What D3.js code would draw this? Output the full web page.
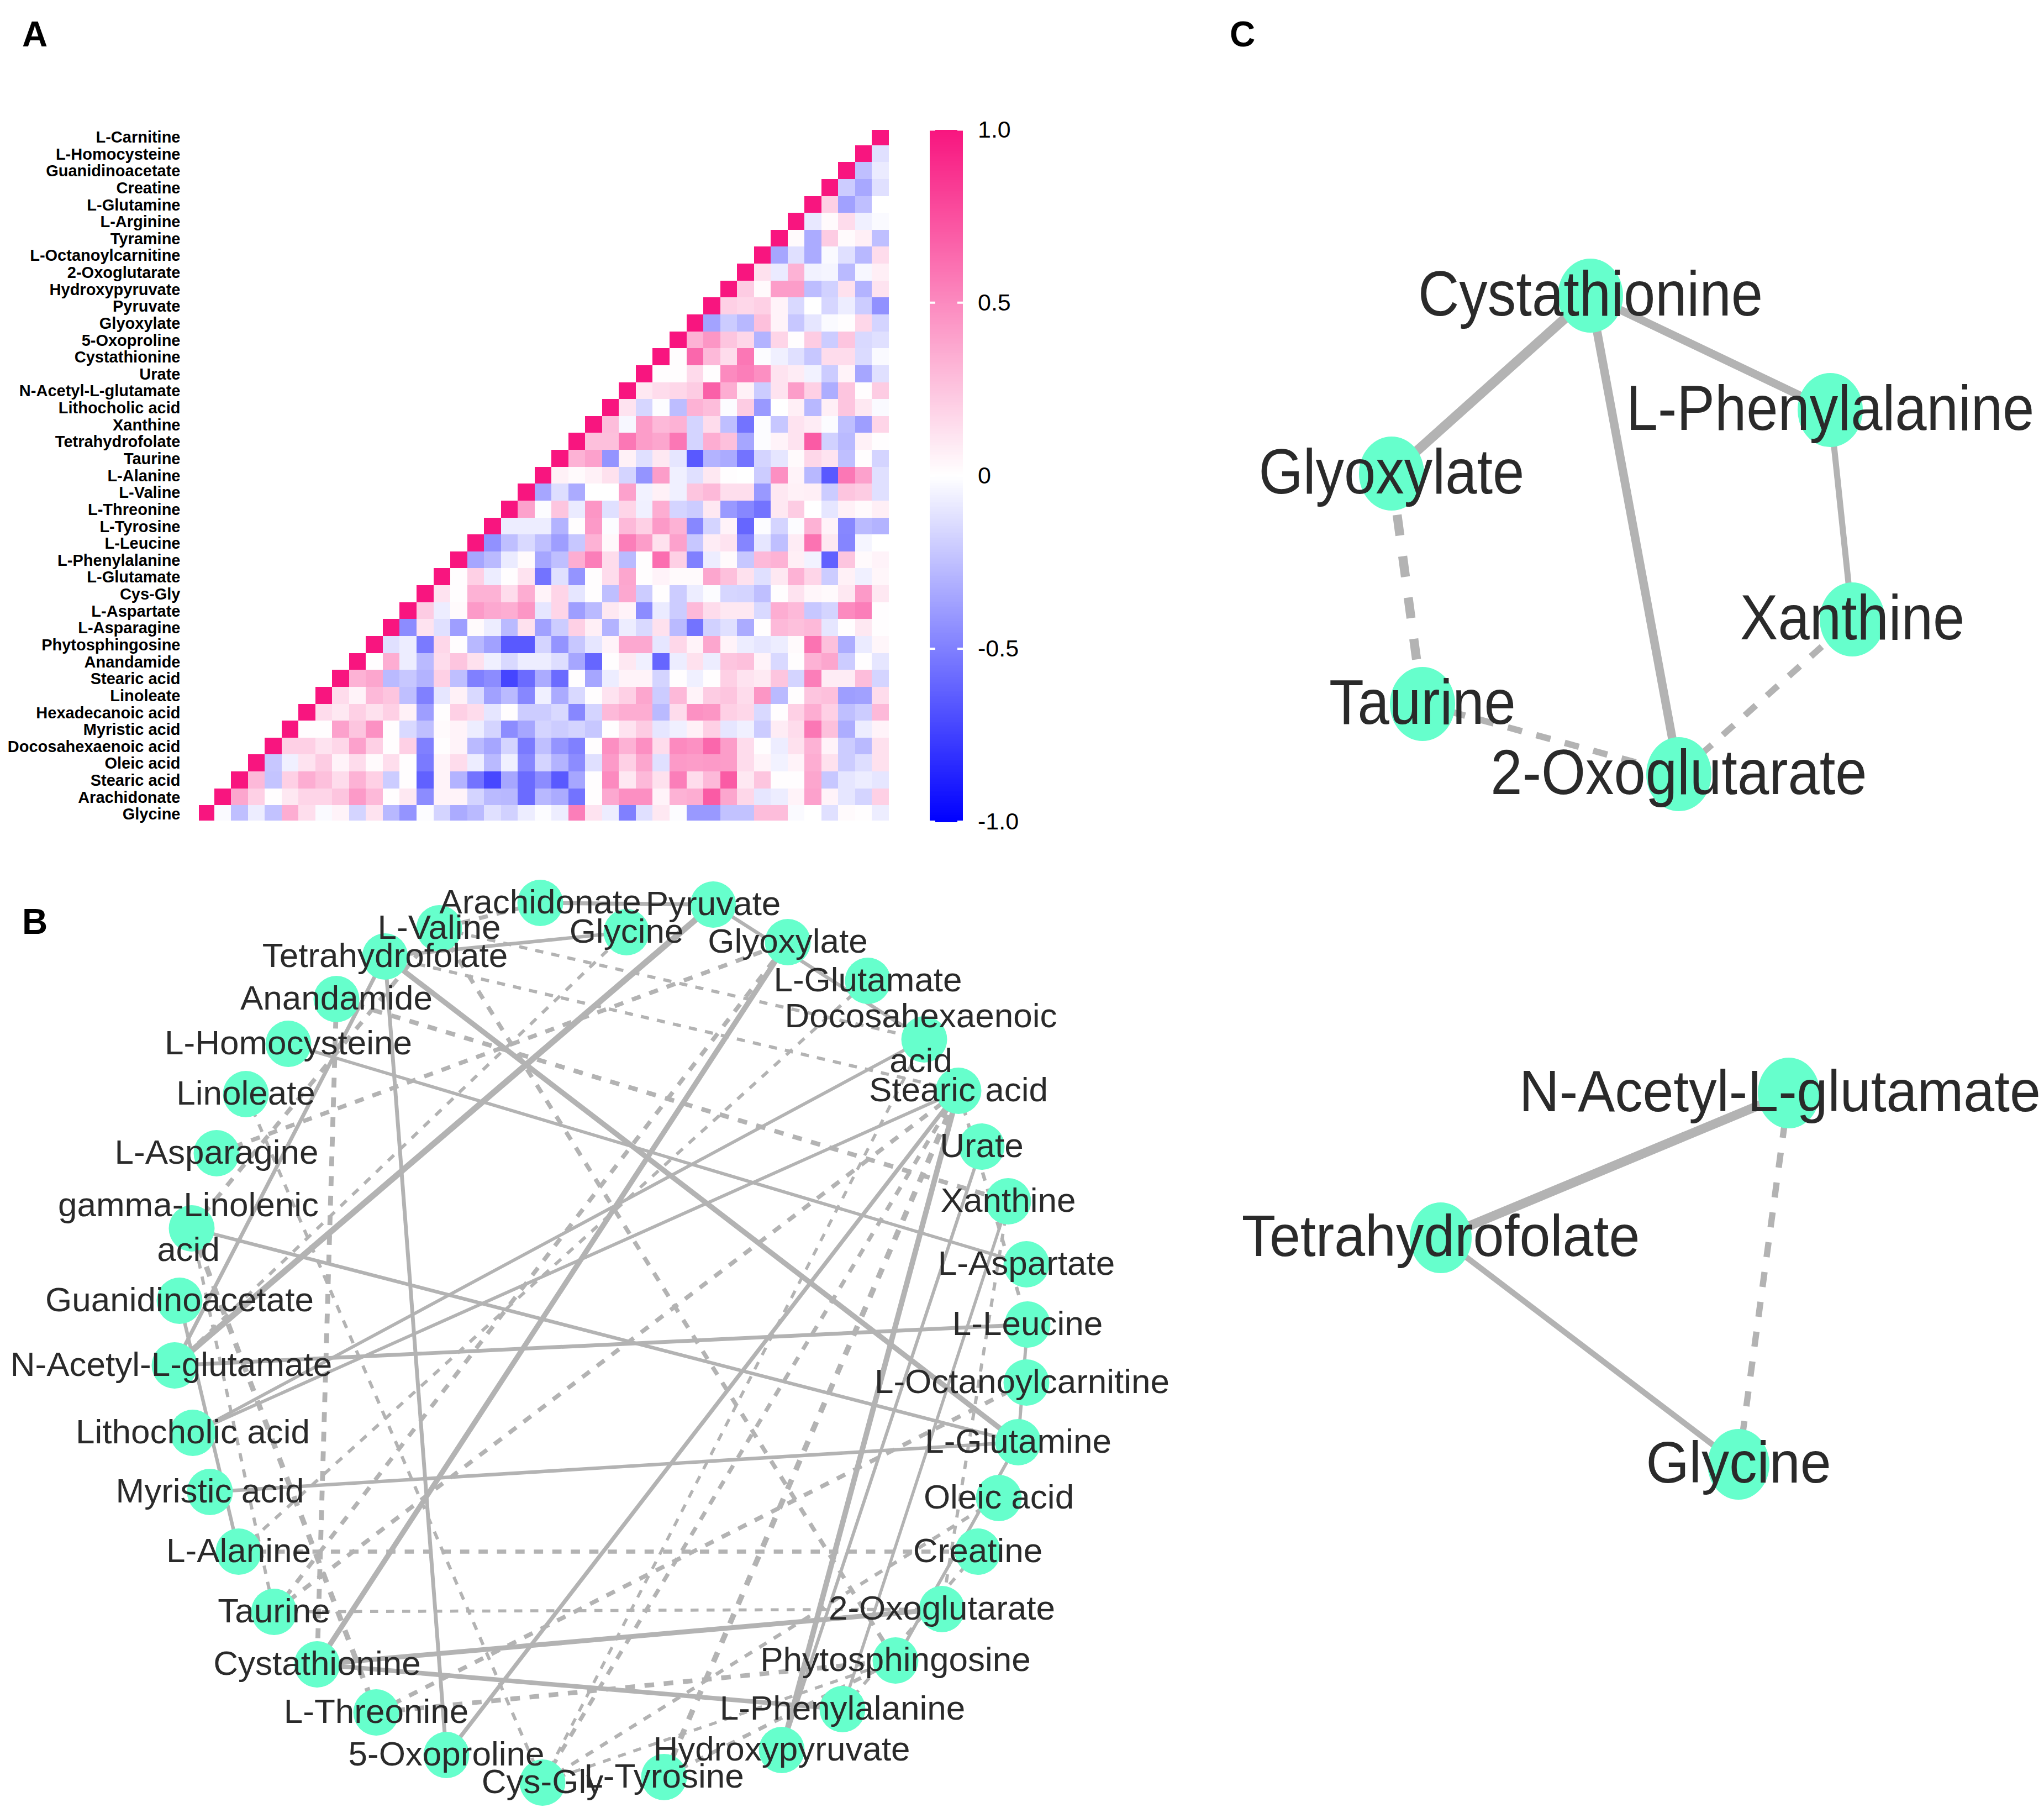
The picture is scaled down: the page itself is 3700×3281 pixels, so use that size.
<!DOCTYPE html>
<html><head><meta charset="utf-8">
<script src="https://cdn.jsdelivr.net/npm/d3@7"></script>
<style>html,body{margin:0;padding:0;background:#fff}svg{display:block}text{font-family:"Liberation Sans",Arial,sans-serif}</style>
</head><body><svg id="c" width="3700" height="3281" viewBox="0 0 3700 3281"></svg>
<script>
const metabolites=["L-Carnitine","L-Homocysteine","Guanidinoacetate","Creatine","L-Glutamine","L-Arginine","Tyramine","L-Octanoylcarnitine","2-Oxoglutarate","Hydroxypyruvate","Pyruvate","Glyoxylate","5-Oxoproline","Cystathionine","Urate","N-Acetyl-L-glutamate","Lithocholic acid","Xanthine","Tetrahydrofolate","Taurine","L-Alanine","L-Valine","L-Threonine","L-Tyrosine","L-Leucine","L-Phenylalanine","L-Glutamate","Cys-Gly","L-Aspartate","L-Asparagine","Phytosphingosine","Anandamide","Stearic acid","Linoleate","Hexadecanoic acid","Myristic acid","Docosahexaenoic acid","Oleic acid","Stearic acid","Arachidonate","Glycine"];
// correlation of each row, from just right of the diagonal to the last column
const corrRows=[
[],
[-.12],
[-.25,-.08],
[-.2,-.34,-.12],
[.2,-.37,-.25,0],
[-.09,.02,.15,-.06,-.02],
[.02,-.33,.22,.02,.07,-.25],
[-.35,-.12,-.33,-.02,-.12,-.28,.15],
[.13,-.08,.33,-.05,-.04,-.27,-.03,.07],
[.22,.02,.42,.42,-.26,-.18,.13,-.3,.12],
[.2,.17,.2,.05,-.15,0,-.16,-.07,-.2,-.43],
[-.36,-.2,-.28,.27,.05,-.22,-.1,-.02,.01,.17,-.17],
[.33,.45,.25,.17,-.3,.18,.01,.22,-.2,.25,-.15,-.12],
[.01,.65,.3,.15,.58,-.01,-.06,-.12,-.22,.15,.15,-.14,-.02],
[.01,.01,.16,.01,.5,.55,.48,.12,.08,-.05,-.2,.05,-.35,-.12],
[.1,.15,.17,.22,.68,.35,.06,-.2,.12,.42,.2,-.32,.25,.01,.22],
[.12,-.16,-.01,-.26,.33,.28,-.01,.22,-.4,0,.07,-.28,.07,.25,.1,-.02],
[.28,-.03,.42,.3,.33,-.17,.15,-.25,-.55,-.01,-.22,.12,.08,-.01,-.25,-.38,.18],
[.27,.27,.58,.42,.38,.58,-.17,.35,.27,-.35,-.01,.05,.12,.7,-.18,-.27,.06,.01],
[.33,.4,-.42,.06,-.12,.1,-.1,-.65,-.3,-.33,-.55,-.17,-.1,.02,.17,.12,-.25,.01,-.17],
[.06,.02,.06,.13,-.17,-.42,.42,-.06,-.12,.1,.01,0,-.2,.48,.05,-.28,-.65,.58,.4,-.12],
[-.35,-.13,-.33,0,0,.4,-.05,.06,-.06,.25,.3,.14,.14,-.4,.1,.06,.07,-.2,.25,.22,-.12],
[.4,-.01,.25,-.08,.45,-.12,.18,-.06,.35,-.17,-.2,.1,-.4,-.47,-.55,.1,.22,0,-.1,.06,.02,.07],
[-.07,-.07,-.07,-.3,.01,.43,-.01,.3,.2,.43,.33,-.47,-.17,.05,-.6,-.01,-.17,-.01,.33,.05,-.47,-.27,-.3],
[-.43,-.25,-.15,-.25,-.38,-.22,.33,.03,.55,.42,.13,.4,-.22,.08,.12,-.48,-.1,-.25,.08,.6,.1,-.48,-.04,0],
[-.35,-.27,-.08,.02,-.35,-.25,.35,.55,.15,-.27,.01,.62,.2,-.5,-.07,.02,-.22,.3,.33,.07,-.05,-.62,.25,.02,.05],
[.01,.2,-.07,.01,.12,-.55,-.12,-.42,.01,.15,.38,.01,.05,.02,.02,.38,.27,.13,-.12,.1,.33,.18,-.2,.06,-.06,.04],
[.12,.01,.33,.33,.15,.35,.05,.18,-.1,.01,-.25,.37,-.2,.01,-.2,-.07,-.01,-.16,-.17,-.25,.01,.12,.04,.02,.1,.43,.1],
[.22,-.07,.02,.43,.37,.35,.45,-.1,.18,-.38,-.27,.1,.05,-.45,-.08,-.2,.3,.15,.1,.1,-.15,.35,.3,-.22,-.17,.5,.55,.01],
[-.45,.12,-.12,-.38,.02,-.07,-.27,.13,-.37,-.2,.2,.07,-.3,-.07,-.15,.13,-.27,-.55,-.18,-.12,-.33,.01,.3,.27,.3,-.1,.01,.1,.01],
[-.12,-.07,-.52,.17,.01,-.28,-.37,-.65,-.65,-.17,-.42,-.22,-.1,.05,.37,.37,-.1,.17,.05,.38,.05,-.07,-.1,-.07,.02,.6,.27,-.32,-.08,.04],
[.01,.35,-.07,-.27,.15,.25,.13,-.06,-.15,-.07,-.07,-.13,-.35,-.6,.01,.1,-.06,-.6,-.07,.13,-.07,.25,.27,.05,-.15,.01,.33,.38,-.2,.01,-.1],
[.33,.38,-.27,-.22,-.3,.2,-.25,-.5,-.45,-.73,-.58,-.33,-.58,.01,-.35,-.07,.05,.05,-.17,.01,-.06,.01,.2,.12,.09,.25,-.17,.55,.08,.08,.28,-.17],
[.15,.05,.3,.25,-.25,-.5,-.1,.06,-.15,-.37,-.27,-.47,-.06,-.33,-.15,.01,.12,.2,.38,-.2,.3,.05,.22,.25,.15,.45,-.27,.01,.25,.27,-.38,-.37,.15],
[.15,.1,.2,.13,.2,.06,-.38,.01,.2,.15,-.1,.01,-.2,-.2,-.15,-.47,-.17,.3,.35,.35,-.27,.15,.47,.45,.2,.17,-.15,.01,.2,.35,.2,-.25,-.2,.3],
[.01,.01,.4,.25,.47,.01,-.15,-.25,.02,.05,-.07,-.17,-.45,-.35,-.17,-.2,-.17,-.22,.01,.12,.22,-.1,-.06,.06,.2,-.1,-.06,-.2,.08,.15,.58,.27,-.32,-.07,.05],
[.2,.2,.12,.17,.4,.2,.01,.2,-.5,.01,.05,-.27,-.35,-.17,-.52,-.25,-.42,-.5,.01,.48,.33,.48,.15,.5,.47,.65,.42,.15,.01,-.07,.13,.33,.05,-.2,-.27,.13],
[-.22,-.06,.12,.22,.05,.15,.02,.14,.01,-.52,.05,.15,-.07,-.27,-.06,-.47,-.17,-.3,-.45,-.12,.43,.2,.38,-.12,.43,.42,.43,.42,.15,.05,-.05,.05,.35,.13,-.2,-.13,.13],
[.3,-.23,.2,.35,.27,.15,.33,.2,-.2,.01,-.62,.05,-.3,-.55,-.72,-.35,-.58,-.45,-.65,-.35,.01,.5,.1,.3,.13,.55,.15,.3,.7,.1,.25,.01,.01,.38,-.22,-.1,-.07,-.1],
[.38,.2,.01,.1,.18,.18,.25,.43,.3,.01,.1,-.45,.05,.05,-.17,-.27,-.28,-.58,-.28,-.33,-.55,.01,.37,.48,.48,.05,.33,.35,.7,.38,.17,-.1,-.07,.05,.4,.05,-.1,-.17,.2],
[-.02,-.25,-.07,-.24,.35,.14,-.02,.05,-.17,.12,-.28,-.42,-.01,-.17,-.33,-.27,-.12,-.18,-.07,-.01,-.07,.55,.12,-.07,-.5,-.12,.1,-.01,-.4,-.4,-.24,-.24,.28,.28,-.02,0,-.12,.02,.01,-.07]
];
const legendTicks=[-1,-.5,0,.5,1];
const legendTickLabels=["-1.0","-0.5","0","0.5","1.0"];
// panel B network, layout coordinates
const netNodes=["Arachidonate","L-Valine","Tetrahydrofolate","Anandamide","L-Homocysteine","Linoleate","L-Asparagine","gamma-Linolenic acid","Guanidinoacetate","N-Acetyl-L-glutamate","Lithocholic acid","Myristic acid","L-Alanine","Taurine","Cystathionine","L-Threonine","5-Oxoproline","Cys-Gly","L-Tyrosine","Hydroxypyruvate","L-Phenylalanine","Phytosphingosine","2-Oxoglutarate","Creatine","Oleic acid","L-Glutamine","L-Octanoylcarnitine","L-Leucine","L-Aspartate","Xanthine","Urate","Stearic acid","Docosahexaenoic acid","L-Glutamate","Glyoxylate","Pyruvate","Glycine"];
const netX=[97.8,79.5,69.7,60.9,52.2,44.5,39.2,34.7,32.5,31.6,34.9,38,43.2,49.6,57.4,68.1,80.8,98.2,120.2,141.5,152.5,162.1,170.5,177,180.8,184.3,185.8,186,185.8,182.5,177.7,173.5,167.3,157.1,142.6,129.1,113.4];
const netY=[163.4,168,173.1,180.8,188.9,198,208.7,222.3,235.4,247.1,259.3,270,280.8,291.7,301.2,309.9,317.6,322.6,321.6,316.7,309.3,300.5,291.2,280.8,271.1,261,250.2,239.7,228.8,217.4,207.5,197.4,188.1,177.5,170.5,163.7,168.7];
const netEdges=[
["Tetrahydrofolate","L-Glutamine",.72],["Tetrahydrofolate","Glycine",.55],["Tetrahydrofolate","N-Acetyl-L-glutamate",.58],["Tetrahydrofolate","5-Oxoproline",.58],["L-Homocysteine","L-Aspartate",.52],["gamma-Linolenic acid","L-Glutamine",.55],["N-Acetyl-L-glutamate","Pyruvate",.8],["N-Acetyl-L-glutamate","L-Leucine",.58],["Lithocholic acid","Docosahexaenoic acid",.52],["Lithocholic acid","Stearic acid",.52],["Myristic acid","L-Glutamine",.55],["Cystathionine","Glyoxylate",.72],["Cystathionine","2-Oxoglutarate",.68],["Cystathionine","L-Phenylalanine",.65],["5-Oxoproline","Stearic acid",.6],["L-Phenylalanine","Xanthine",.5],["Hydroxypyruvate","Stearic acid",.74],["Hydroxypyruvate","Urate",.52],["L-Leucine","L-Glutamine",.52],["Arachidonate","Pyruvate",.6],["Pyruvate","Docosahexaenoic acid",.55],["Guanidinoacetate","L-Alanine",.55],["L-Glutamine","Phytosphingosine",.52],
["L-Alanine","Creatine",-.62],["Taurine","2-Oxoglutarate",-.5],["Anandamide","Cystathionine",-.68],["Anandamide","Xanthine",-.65],["L-Asparagine","Glyoxylate",-.62],["gamma-Linolenic acid","L-Valine",-.62],["L-Valine","Phytosphingosine",-.62],["Linoleate","Cys-Gly",-.52],["gamma-Linolenic acid","Taurine",-.52],["gamma-Linolenic acid","L-Threonine",-.72],["N-Acetyl-L-glutamate","Glycine",-.52],["L-Valine","Docosahexaenoic acid",-.52],["Tetrahydrofolate","Stearic acid",-.52],["Arachidonate","L-Valine",-.6],["Taurine","Glyoxylate",-.62],["Taurine","Stearic acid",-.62],["L-Alanine","L-Glutamate",-.52],["L-Threonine","L-Octanoylcarnitine",-.62],["L-Threonine","Phytosphingosine",-.66],["Cys-Gly","Oleic acid",-.55],["Cys-Gly","Phytosphingosine",-.5],["L-Tyrosine","Phytosphingosine",-.58],["L-Tyrosine","Stearic acid",-.74],["Cys-Gly","Stearic acid",-.6],["Cys-Gly","Docosahexaenoic acid",-.5],["L-Phenylalanine","Creatine",-.52],["Xanthine","2-Oxoglutarate",-.52],["Stearic acid","L-Leucine",-.55]
];
// label nudges in the reference, where a long label is not centred on its node
const netLabelNudge={"L-Octanoylcarnitine":-8,"N-Acetyl-L-glutamate":-6,"Docosahexaenoic acid":-6,"gamma-Linolenic acid":-6};
// panel C modules
const modNodes=["Cystathionine","L-Phenylalanine","Glyoxylate","Xanthine","Taurine","2-Oxoglutarate"];
const modX=[287.9,331.3,251.9,335.3,257.5,303.9];
const modY=[53.5,74.2,85.7,112.1,127.4,140.1];
const modEdges=[["Cystathionine","Glyoxylate",.72],["Cystathionine","L-Phenylalanine",.62],["Cystathionine","2-Oxoglutarate",.65],["L-Phenylalanine","Xanthine",.5],["Glyoxylate","Taurine",-.68],["Taurine","2-Oxoglutarate",-.52],["2-Oxoglutarate","Xanthine",-.52]];
const mod2Nodes=["N-Acetyl-L-glutamate","Tetrahydrofolate","Glycine"];
const mod2X=[323.8,260.8,314.7];
const mod2Y=[197.8,224,265];
const mod2Edges=[["N-Acetyl-L-glutamate","Tetrahydrofolate",.72],["Tetrahydrofolate","Glycine",.5],["N-Acetyl-L-glutamate","Glycine",-.53]];
const mod2LabelNudge={"N-Acetyl-L-glutamate":-16};

const svg=d3.select("#c");
svg.append("rect").attr("width",3700).attr("height",3281).attr("fill","#fff");
const color=d3.scaleLinear().domain([-1,0,1]).range(["#0000FF","#FFFFFF","#F8157F"]);

// ---------- panel letters
svg.selectAll("text.pl").data([["A",40,84],["B",40,1690],["C",2226,84]]).join("text").attr("class","pl")
 .attr("x",d=>d[1]).attr("y",d=>d[2]).attr("font-size",64).attr("font-weight","bold").attr("fill","#000").text(d=>d[0]);

// ---------- panel A heat map
const n=metabolites.length;
const xBand=d3.scaleBand().domain(d3.range(n)).range([357,1609]);
const yBand=d3.scaleBand().domain(d3.range(n)).range([232,1488]);
svg.append("defs").append("clipPath").attr("id","hm").append("rect").attr("x",360).attr("y",235).attr("width",1249).attr("height",1250);
const cells=corrRows.flatMap((r,i)=>[1,...r].map((v,j)=>({row:i,col:n-1-i+j,v})));
svg.append("g").attr("clip-path","url(#hm)").attr("shape-rendering","crispEdges").selectAll("rect").data(cells).join("rect")
 .attr("x",d=>xBand(d.col)).attr("y",d=>yBand(d.row)).attr("width",xBand.bandwidth()+.5).attr("height",yBand.bandwidth()+.5).attr("fill",d=>color(d.v));
svg.append("g").selectAll("text").data(metabolites).join("text")
 .attr("x",326.5).attr("y",(d,i)=>yBand(i)+yBand.bandwidth()/2+.5).attr("dy",".35em").attr("text-anchor","end")
 .attr("font-size",29).attr("font-weight","bold").attr("fill","#000").text(d=>d);

// colour legend
const legY=d3.scaleLinear().domain([-1,1]).range([1487,234.5]);
const legX0=1683,legX1=1743;
const legSteps=d3.range(-1,1,.005);
svg.append("g").attr("shape-rendering","crispEdges").selectAll("rect").data(legSteps).join("rect")
 .attr("x",legX0).attr("width",legX1-legX0).attr("y",d=>legY(d+.005)).attr("height",d=>legY(d)-legY(d+.005)+.6).attr("fill",d=>color(d+.0025));
const legAxis=svg.append("g").attr("transform",`translate(${legX1},0)`)
 .call(d3.axisRight(legY).tickValues(legendTicks).tickFormat((d,i)=>legendTickLabels[i]).tickSize(0).tickPadding(27));
legAxis.select(".domain").remove();
legAxis.selectAll("text").attr("font-size",43).attr("fill","#000").attr("font-family","Liberation Sans");
svg.append("g").selectAll("path").data(legendTicks).join("path")
 .attr("d",d=>`M${legX0},${legY(d)}h10M${legX1-10},${legY(d)}h10`).attr("stroke","#fff").attr("stroke-width",4);

// ---------- networks
const layoutX=d3.scaleLinear().domain([0,370]).range([0,3700]);
const layoutY=d3.scaleLinear().domain([0,328.1]).range([0,3281]);
function network(names,xs,ys,edges,opt){
  const pos=new Map(names.map((nm,i)=>[nm,{x:layoutX(xs[i]),y:layoutY(ys[i])}]));
  const w=d3.scaleLinear().domain([.5,.8]).range(opt.width);
  const g=svg.append("g");
  g.append("g").selectAll("line").data(edges).join("line")
   .attr("x1",d=>pos.get(d[0]).x).attr("y1",d=>pos.get(d[0]).y)
   .attr("x2",d=>pos.get(d[1]).x).attr("y2",d=>pos.get(d[1]).y)
   .attr("stroke","#B3B3B3").attr("stroke-width",d=>w(Math.abs(d[2])))
   .attr("stroke-dasharray",d=>{if(d[2]>=0)return null;const l=opt.dash(w(Math.abs(d[2])));return l+" "+l;});
  g.append("g").selectAll("ellipse").data(names).join("ellipse")
   .attr("cx",d=>pos.get(d).x).attr("cy",d=>pos.get(d).y).attr("rx",opt.rx).attr("ry",opt.ry).attr("fill","#66FFCC");
  const t=g.append("g").selectAll("text").data(names).join("text")
   .attr("transform",d=>`translate(${pos.get(d).x+(opt.nudge[d]||0)},${pos.get(d).y+opt.up}) scale(1,${opt.stretch})`)
   .attr("text-anchor","middle").attr("font-size",opt.font).attr("fill","#2A2A2A");
  t.each(function(d){
    const m=d.match(/^(gamma-Linolenic|Docosahexaenoic) (acid)$/);
    const sel=d3.select(this);
    if(m){
      sel.append("tspan").attr("x",0).attr("y",-opt.lh/2).attr("dy",".35em").text(m[1]);
      sel.append("tspan").attr("x",0).attr("y",opt.lh/2).attr("dy",".35em").text(m[2]);
    } else sel.append("tspan").attr("x",0).attr("y",0).attr("dy",".35em").text(d);
  });
}
network(netNodes,netX,netY,netEdges,{width:[5.5,11],dash:v=>9+v,rx:41.5,ry:42,font:62,lh:81,stretch:1,up:-3,nudge:netLabelNudge});
network(modNodes,modX,modY,modEdges,{width:[11,20],dash:v=>2.3*v,rx:59,ry:67,font:103,lh:0,stretch:1.12,up:-4,nudge:{}});
network(mod2Nodes,mod2X,mod2Y,mod2Edges,{width:[10.5,19],dash:v=>2.4*v,rx:56,ry:64,font:100.5,lh:0,stretch:1.05,up:-4,nudge:mod2LabelNudge});
</script></body></html>
